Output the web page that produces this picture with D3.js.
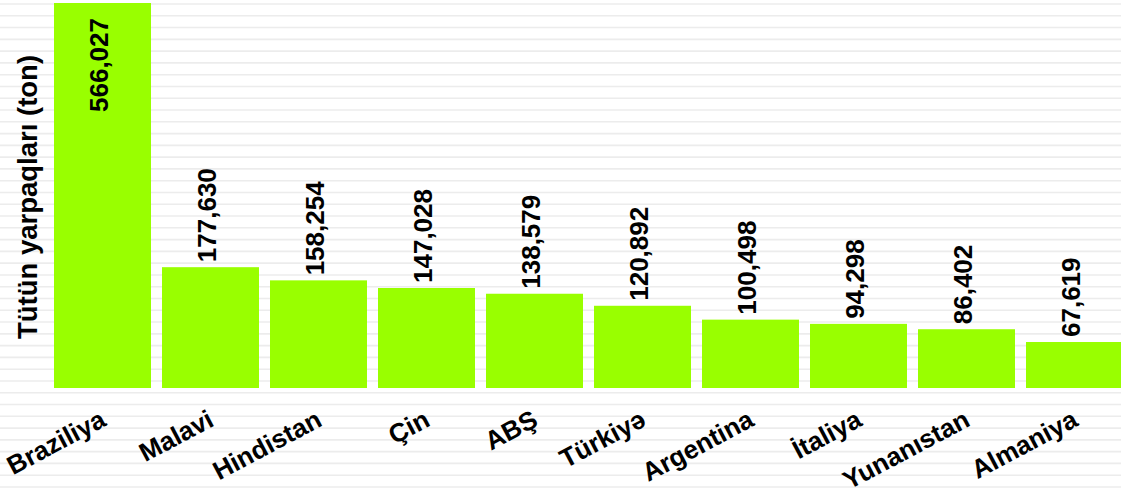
<!DOCTYPE html>
<html>
<head>
<meta charset="utf-8">
<script src="https://cdn.jsdelivr.net/npm/d3@7"></script>
<style>
  html, body { margin: 0; padding: 0; background: #fff; }
  svg { display: block; font-family: "Liberation Sans", Arial, sans-serif; }
</style>
</head>
<body>
<svg id="chart" width="1121" height="497"></svg>
<script>
const categories = ["Braziliya", "Malavi", "Hindistan", "Çin", "ABŞ", "Türkiyə", "Argentina", "İtaliya", "Yunanıstan", "Almaniya"];
const values = [566027, 177630, 158254, 147028, 138579, 120892, 100498, 94298, 86402, 67619];
const yTitle = "Tütün yarpaqları (ton)";

const W = 1121, H = 497;
const svg = d3.select("#chart");

// background stripes
const stripes = d3.range(4, H, 11.78);
svg.append("g").selectAll("line").data(stripes).join("line")
  .attr("x1", 0).attr("x2", W)
  .attr("y1", d => d).attr("y2", d => d)
  .attr("stroke", "#ececec").attr("stroke-width", 1.6);

const x = d3.scaleBand().domain(categories).range([54, 1123]).paddingInner(0.1019).paddingOuter(0);
const y = d3.scaleLinear().domain([0, d3.max(values)]).range([388, 3]);

const data = categories.map((c, i) => ({c, v: values[i]}));
const fmt = d3.format(",");

svg.append("g").selectAll("rect").data(data).join("rect")
  .attr("x", d => x(d.c)).attr("width", x.bandwidth())
  .attr("y", d => y(d.v)).attr("height", d => y(0) - y(d.v))
  .attr("fill", "#99ff00");

// value labels
svg.append("g").selectAll("text").data(data).join("text")
  .attr("transform", d => {
    const cx = x(d.c) + x.bandwidth() / 2 + 5.5;
    const inside = y(d.v) < 110;
    const ty = inside ? y(d.v) + 15 : y(d.v) - 5;
    return `translate(${cx},${ty}) rotate(-90)`;
  })
  .attr("text-anchor", d => y(d.v) < 110 ? "end" : "start")
  .attr("font-size", 26).attr("font-weight", "bold").attr("fill", "#000")
  .text(d => fmt(d.v));

// category labels
svg.append("g").selectAll("text").data(categories).join("text")
  .attr("transform", c => `translate(${x(c) + x.bandwidth() / 2 + 5},${425}) rotate(-28)`)
  .attr("text-anchor", "end")
  .attr("font-size", 26).attr("font-weight", "bold").attr("fill", "#000")
  .text(c => c);

// y title
svg.append("text")
  .attr("transform", "translate(37,197) rotate(-90)")
  .attr("text-anchor", "middle")
  .attr("font-size", 27.5).attr("font-weight", "bold").attr("fill", "#000")
  .text(yTitle);
</script>
</body>
</html>
